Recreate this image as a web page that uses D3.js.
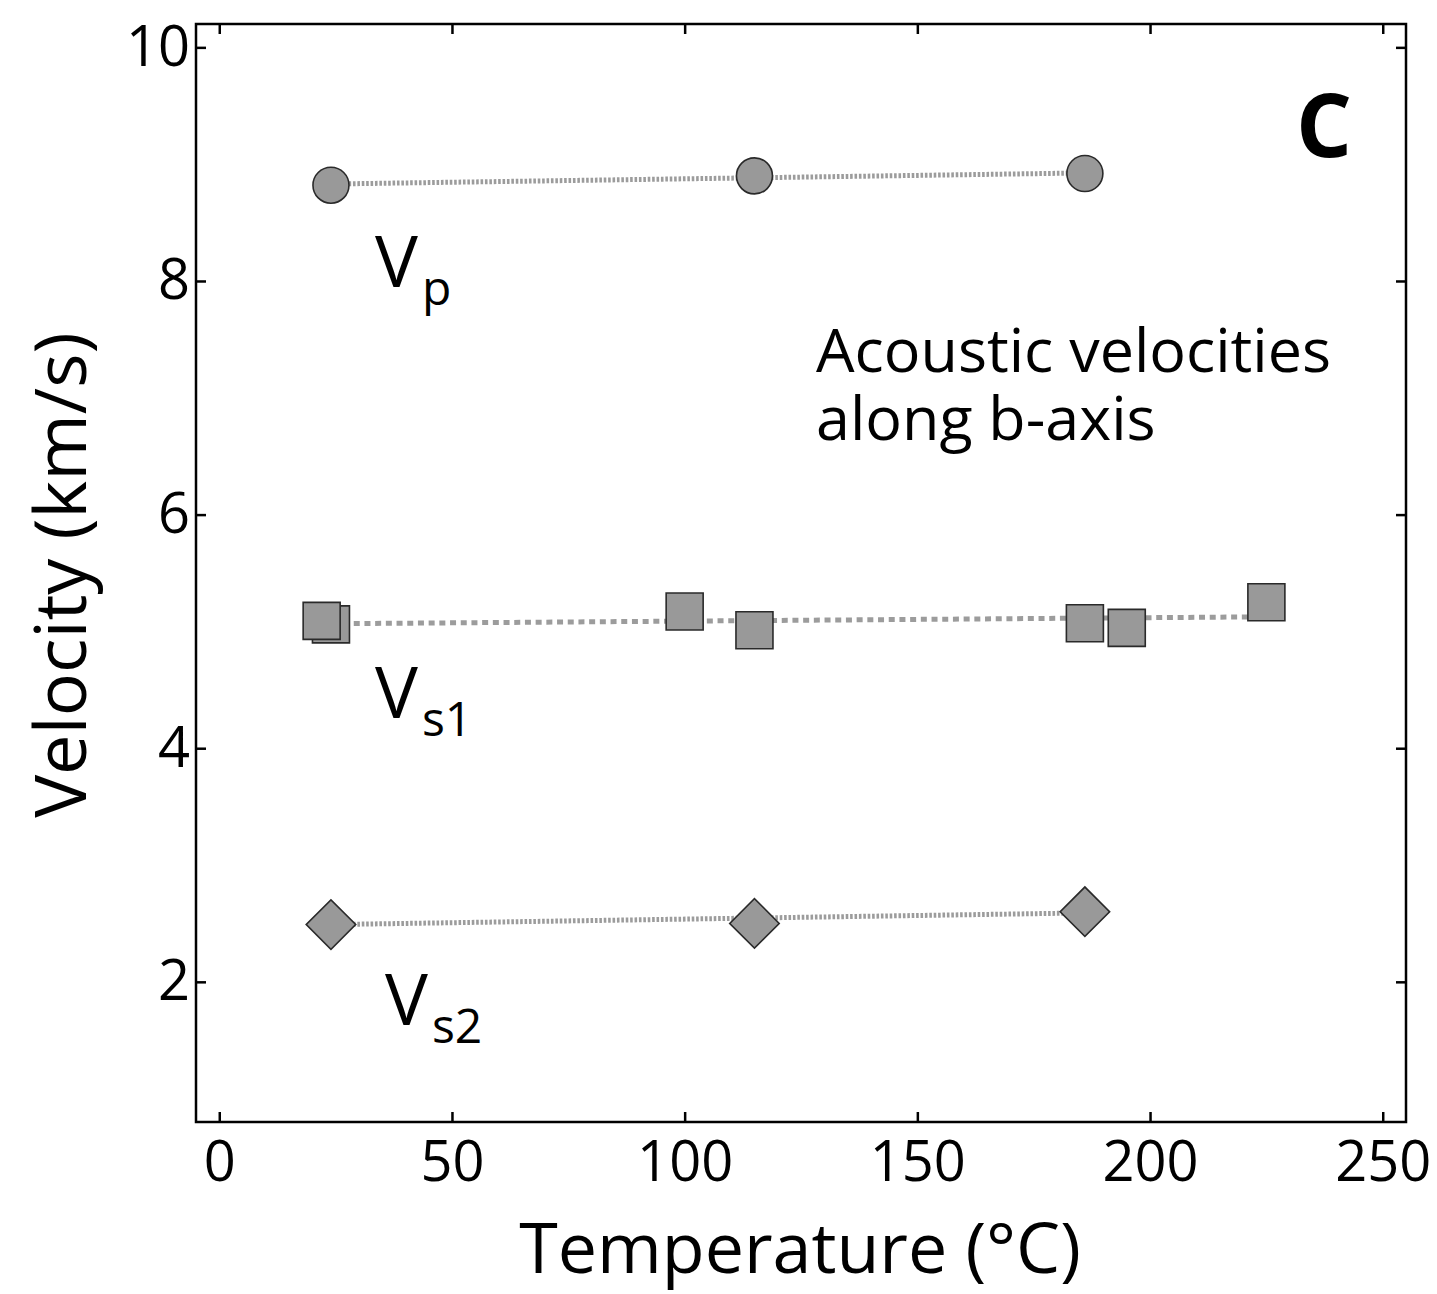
<!DOCTYPE html>
<html>
<head>
<meta charset="utf-8">
<script src="https://cdn.jsdelivr.net/npm/d3@7"></script>
<style>
  html, body { margin: 0; padding: 0; background: #ffffff; }
  svg { display: block; font-family: "Open Sans", "Noto Sans", sans-serif; }
</style>
</head>
<body>
<svg id="chart" width="1437" height="1294"></svg>
<script>
// Tick values
const xTicks = [0, 50, 100, 150, 200, 250];
const yTicks = [2, 4, 6, 8, 10];

// P-wave velocity (circles)
const vpTemp = [24, 115, 186];
const vpVel  = [8.82, 8.90, 8.92];

// Fast shear-wave velocity (squares)
const vs1Temp = [24, 22, 100, 115, 186, 195, 225];
const vs1Vel  = [5.06, 5.09, 5.17, 5.01, 5.07, 5.03, 5.25];

// Slow shear-wave velocity (diamonds)
const vs2Temp = [24, 115, 186];
const vs2Vel  = [2.49, 2.50, 2.60];

// Linear trend endpoints for each wave type
const vpFitTemp  = [24, 186];
const vpFitVel   = [8.83, 8.925];
const vs1FitTemp = [22, 225];
const vs1FitVel  = [5.065, 5.125];
const vs2FitTemp = [24, 186];
const vs2FitVel  = [2.49, 2.59];

const FONT = '"Open Sans", "Noto Sans", sans-serif';
const svg = d3.select("#chart");

const plotL = 196, plotR = 1406, plotT = 24, plotB = 1122;
const x = d3.scaleLinear().domain([-5, 255]).range([plotL, plotR]);
const y = d3.scaleLinear().domain([0.8, 10.2]).range([plotB, plotT]);

const markFill = "#999999", markStroke = "#2a2a2a", lineColor = "#9c9c9c";

// Axes with inward ticks on all four sides
const tickW = 2.5;
function styleAxis(g, showLabels) {
  g.attr("font-family", FONT);
  g.select(".domain").remove();
  g.selectAll(".tick line").attr("stroke", "#000").attr("stroke-width", tickW);
  if (!showLabels) g.selectAll(".tick text").remove();
  else g.selectAll(".tick text").attr("fill", "#000").style("font-size", "56px");
}

svg.append("g").attr("transform", `translate(0,${plotB})`)
  .call(d3.axisBottom(x).tickValues(xTicks).tickSize(-10).tickPadding(19).tickFormat(d3.format("d")))
  .call(g => styleAxis(g, true));
svg.append("g").attr("transform", `translate(0,${plotT})`)
  .call(d3.axisTop(x).tickValues(xTicks).tickSize(-10))
  .call(g => styleAxis(g, false));
svg.append("g").attr("transform", `translate(${plotL},0)`)
  .call(d3.axisLeft(y).tickValues(yTicks).tickSize(-10).tickPadding(6).tickFormat(d3.format("d")))
  .call(g => styleAxis(g, true));
svg.append("g").attr("transform", `translate(${plotR},0)`)
  .call(d3.axisRight(y).tickValues(yTicks).tickSize(-10))
  .call(g => styleAxis(g, false));

// Plot frame
svg.append("rect")
  .attr("x", plotL).attr("y", plotT)
  .attr("width", plotR - plotL).attr("height", plotB - plotT)
  .attr("fill", "none").attr("stroke", "#000").attr("stroke-width", 2.5);

// Trend lines
const line = d3.line().x(d => x(d[0])).y(d => y(d[1]));
function trend(temps, vels, dash, width) {
  svg.append("path")
    .datum(d3.zip(temps, vels))
    .attr("d", line)
    .attr("fill", "none")
    .attr("stroke", lineColor)
    .attr("stroke-width", width)
    .attr("stroke-dasharray", dash);
}
trend(vpFitTemp, vpFitVel, "2.6 1.8", 5);
trend(vs1FitTemp, vs1FitVel, "6 4.7", 5);
trend(vs2FitTemp, vs2FitVel, "2.6 1.8", 5);

// Markers
function markers(temps, vels, type, size, rotate) {
  const sym = d3.symbol().type(type).size(size);
  svg.append("g").selectAll("path")
    .data(d3.zip(temps, vels))
    .join("path")
    .attr("d", sym)
    .attr("transform", d => `translate(${x(d[0])},${y(d[1])}) rotate(${rotate})`)
    .attr("fill", markFill)
    .attr("stroke", markStroke)
    .attr("stroke-width", 1.6);
}
markers(vpTemp, vpVel, d3.symbolCircle, Math.PI * 18 * 18, 0);
markers(vs1Temp, vs1Vel, d3.symbolSquare, 37 * 37, 0);
markers(vs2Temp, vs2Vel, d3.symbolSquare, 35 * 35, 45);

// Wave-type labels with subscripts
function waveLabel(px, py, sub) {
  const t = svg.append("text").attr("x", px).attr("y", py).attr("fill", "#000");
  t.append("tspan").text("V").style("font-size", "72px");
  t.append("tspan").text(sub).attr("dy", 18).attr("dx", 4).style("font-size", "48px");
}
waveLabel(375, 287, "p");
waveLabel(375, 718, "s1");
waveLabel(385, 1025, "s2");

// Annotation text, two lines
svg.append("text").attr("x", 816).attr("y", 372)
  .style("font-size", "61px").attr("fill", "#000")
  .text("Acoustic velocities");
svg.append("text").attr("x", 816).attr("y", 440)
  .style("font-size", "61px").attr("fill", "#000")
  .text("along b-axis");

// Panel letter
svg.append("text").attr("x", 1324).attr("y", 157)
  .attr("text-anchor", "middle")
  .style("font-size", "88px").style("font-weight", "700")
  .text("C");

// Axis titles
svg.append("text")
  .attr("x", 800).attr("y", 1273)
  .attr("text-anchor", "middle")
  .style("font-size", "70px")
  .text("Temperature (°C)");
svg.append("text")
  .attr("transform", `translate(86,575) rotate(-90)`)
  .attr("text-anchor", "middle")
  .style("font-size", "72px")
  .text("Velocity (km/s)");
</script>
</body>
</html>
